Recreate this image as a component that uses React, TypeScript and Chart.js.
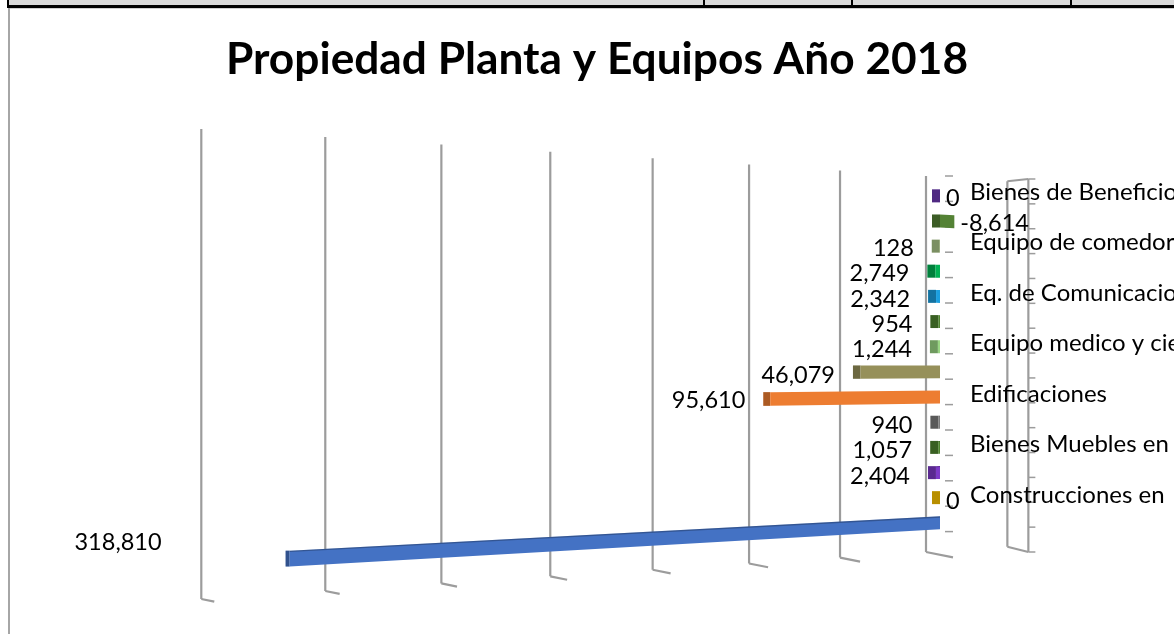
import React, { useEffect, useRef } from "react";
import { Chart, registerables, LinearScale } from "chart.js";

const categories = [
  "Bienes de Beneficio", "", "Equipo de comedor", "", "Eq. de Comunicacion", "",
  "Equipo medico y cie", "", "Edificaciones", "", "Bienes Muebles en", "", "Construcciones en", "",
];
const values = [0, -8614, 128, 2749, 2342, 954, 1244, 46079, 95610, 940, 1057, 2404, 0, 318810];
const barColors = [
  "#6e3ab5", "#548235", "#abc688", "#00b254", "#1b9fe0", "#508430", "#9ad684",
  "#96905a", "#ed7d31", "#7c7c7c", "#508530", "#7d3ac8", "#ffc600", "#4472c4",
];
const titleText = "Propiedad Planta y Equipos Año 2018";

const FONT = "Lato, Carlito, Calibri, sans-serif";
const GRID = "#9c9c9c";

// Projective depth of the value axis, as Excel's 3-D view flattens it.
const STEP = 50000;
const A = 83.6;
const B = 0.0275;
const ZERO_FROM_RIGHT = 81;

class PerspectiveScale extends (LinearScale as any) {
  static id = "perspective";
  static defaults = (LinearScale as any).defaults;
  getPixelForValue(value: number) {
    if (value === null || value === undefined) return NaN;
    const n = value / STEP;
    return this.right - ZERO_FROM_RIGHT - (A * n) / (1 - B * n);
  }
}

Chart.register(...registerables, PerspectiveScale as any);

const view = {
  cy: 364,
  scale(x: number, zero: number) {
    return 1 + (zero - x) * 0.000345;
  },
};

const project = (x: number, y: number, zero: number) =>
  view.cy + (y - view.cy) * view.scale(x, zero);

const line = (ctx: CanvasRenderingContext2D, x1: number, y1: number, x2: number, y2: number) => {
  ctx.beginPath();
  ctx.moveTo(x1, y1);
  ctx.lineTo(x2, y2);
  ctx.stroke();
};

const quad = (ctx: CanvasRenderingContext2D, p: number[][], fill: string) => {
  ctx.beginPath();
  ctx.moveTo(p[0][0], p[0][1]);
  for (let i = 1; i < p.length; i++) ctx.lineTo(p[i][0], p[i][1]);
  ctx.closePath();
  ctx.fillStyle = fill;
  ctx.fill();
};

const chart3d = {
  id: "chart3d",
  beforeDatasetsDraw(chart: any) {
    const { ctx, scales, chartArea } = chart;
    const xs = scales.x;
    const zero = xs.getPixelForValue(0);
    const top = chartArea.top - 6.4;
    const bottom = top + 376;
    ctx.save();
    ctx.strokeStyle = GRID;
    ctx.lineWidth = 2.2;
    for (const t of xs.ticks) {
      const x = xs.getPixelForValue(t.value);
      const yTop = project(x, top, zero);
      const yBot = project(x, bottom, zero);
      line(ctx, x, yTop, x, yBot);
      if (t.value === -STEP) continue;
      const dx = t.value === 0 ? 27 : 13 + (x - xs.getPixelForValue(350000)) * 0.011;
      line(ctx, x, yBot, x + dx, yBot + dx * 0.2);
    }
    // end wall and the two columns of category tick marks
    const endX = xs.getPixelForValue(-STEP);
    const wallX = endX + 21;
    line(ctx, endX, project(endX, top, zero), wallX, top + 3);
    line(ctx, endX, project(endX, bottom, zero), wallX, bottom);
    line(ctx, wallX, top + 3, wallX, bottom);
    ctx.lineWidth = 1.5;
    const rows = chart.data.labels.length + 1;
    for (let k = 0; k <= rows; k++) {
      line(ctx, wallX, top + 3 + (k * (bottom - top - 3)) / rows, wallX + 7, top + 3 + (k * (bottom - top - 3)) / rows);
      if (k < rows) line(ctx, zero + 19, top + k * 25.4, zero + 27, top + k * 25.4);
    }
    ctx.restore();
  },
  beforeDatasetDraw(chart: any, args: any) {
    const { ctx, scales } = chart;
    const zero = scales.x.getPixelForValue(0);
    ctx.save();
    args.meta.data.forEach((el: any, i: number) => {
      const color = barColors[i];
      const h = el.height / 2;
      const lo = Math.min(el.x, el.base);
      const hi = Math.max(el.x, el.base);
      const frontOffset = 14 - (4 * (zero - lo)) / 646;
      const fl = lo + frontOffset;
      const fr = hi + 14;
      const bl = lo + 6;
      const py = (x: number, d: number) => project(x, el.y + d, zero);
      // left end of the bar
      const side = [[bl, py(fl, -h)], [fl, py(fl, -h)], [fl, py(fl, h)], [bl, py(fl, h)]];
      quad(ctx, side, color);
      quad(ctx, side, "rgba(0,0,0,0.28)");
      // front face
      quad(ctx, [[fl, py(fl, -h)], [fr, py(fr, -h)], [fr, py(fr, h)], [fl, py(fl, h)]], color);
      // top edge, seen only below the eye line
      const rise = (el.y - view.cy) * 0.009;
      if (rise > 0.5) {
        const topFace = [[fl, py(fl, -h)], [fr, py(fr, -h)], [fr, py(fr, -h) + rise], [fl, py(fl, -h) + rise]];
        quad(ctx, topFace, "rgba(0,0,0,0.25)");
      }
    });
    ctx.restore();
    return false;
  },
  afterDatasetsDraw(chart: any) {
    const { ctx, scales } = chart;
    const xs = scales.x;
    const ys = scales.y;
    const zero = xs.getPixelForValue(0);
    const meta = chart.getDatasetMeta(0);
    const biggest = Math.max(...values);
    ctx.save();
    ctx.font = `23.5px ${FONT}`;
    ctx.fillStyle = "#000000";
    ctx.textBaseline = "middle";
    values.forEach((v, i) => {
      const el = meta.data[i];
      const text = v.toLocaleString("en-US");
      if (v > 0) {
        ctx.textAlign = "right";
        const far = v === biggest;
        ctx.fillText(text, el.x + 6 - (far ? 124 : 18), el.y + (far ? 19 : 3));
      } else {
        ctx.textAlign = "left";
        ctx.fillText(text, el.x + 20, el.y + 3);
      }
    });
    ctx.textAlign = "left";
    ctx.font = `24px ${FONT}`;
    categories.forEach((c, i) => {
      if (c) ctx.fillText(c, zero + 44, ys.getPixelForValue(i) - 3);
    });
    ctx.restore();
  },
};

export default function App() {
  const ref = useRef<HTMLCanvasElement>(null);
  useEffect(() => {
    const chart = new Chart(ref.current!, {
      type: "bar",
      data: {
        labels: categories,
        datasets: [{ label: "2018", data: values, backgroundColor: barColors, barThickness: 13 }],
      },
      options: {
        indexAxis: "y",
        animation: false,
        responsive: false,
        layout: { padding: { left: 187, right: 167, top: 0, bottom: 97.8 } },
        plugins: {
          legend: { display: false },
          tooltip: { enabled: false },
          title: {
            display: true,
            text: titleText,
            color: "#000000",
            font: { family: FONT, size: 44.25, weight: "bold" },
            padding: { top: 33, bottom: 96.3 },
          },
        },
        scales: {
          x: { type: "perspective", display: false, min: -STEP, max: 350000, ticks: { stepSize: STEP } },
          y: { display: false },
        },
      } as any,
      plugins: [chart3d],
    });
    return () => chart.destroy();
  }, []);

  const box = (s: React.CSSProperties) => <div style={{ position: "absolute", ...s }} />;
  return (
    <div style={{ position: "fixed", left: 0, top: 0, width: 1174, height: 634, overflow: "hidden", background: "#fff" }}>
      {box({ left: 8, top: 0, width: 1166, height: 5, background: "#d9d9d9" })}
      {box({ left: 7, top: 5, width: 1167, height: 2.5, background: "#000" })}
      {box({ left: 7, top: 0, width: 2, height: 7, background: "#000" })}
      {box({ left: 703, top: 0, width: 2, height: 7, background: "#000" })}
      {box({ left: 851, top: 0, width: 2, height: 7, background: "#000" })}
      {box({ left: 1070, top: 0, width: 2, height: 7, background: "#000" })}
      {box({ left: 8, top: 8, width: 1166, height: 1, background: "#cfcfcf" })}
      {box({ left: 8, top: 8, width: 1.5, height: 626, background: "#a6a6a6" })}
      <canvas ref={ref} width={1174} height={634} style={{ position: "absolute", left: 0, top: 0, display: "block" }} />
    </div>
  );
}
